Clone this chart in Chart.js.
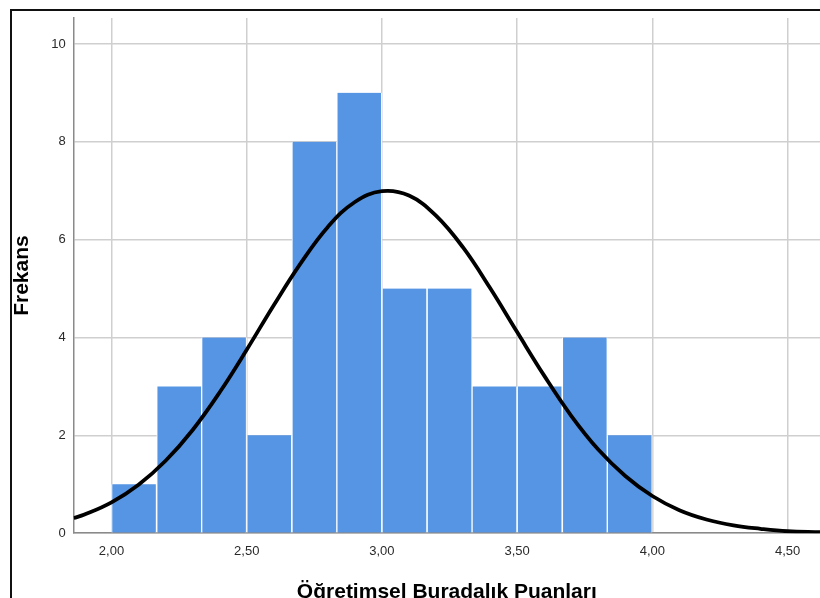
<!DOCTYPE html>
<html>
<head>
<meta charset="utf-8">
<script src="https://cdn.jsdelivr.net/npm/chart.js@4.4.1/dist/chart.umd.min.js"></script>
<style>
  body { margin: 0; background: #fff; overflow: hidden; }
  #wrap { position: relative; width: 820px; height: 605px; }
  #frame { position: absolute; left: 10px; top: 9px; width: 900px; height: 700px;
           border-left: 2px solid #111; border-top: 2px solid #111; pointer-events: none; }
</style>
</head>
<body>
<div id="wrap">
  <canvas id="histChart" width="820" height="605"></canvas>
  <div id="frame"></div>
</div>
<script>
// histogram bins (lower edge) and counts
const binLow = [2.000, 2.167, 2.333, 2.500, 2.667, 2.833, 3.000, 3.167, 3.333, 3.500, 3.667, 3.833];
const binWidth = 1 / 6;
const counts = [1, 3, 4, 2, 8, 9, 5, 5, 3, 3, 4, 2];

// normal curve
const curveX = [1.86, 1.9, 2.0, 2.1, 2.2, 2.3, 2.4, 2.5, 2.6, 2.7, 2.8, 2.9, 3.0, 3.1, 3.2, 3.3, 3.4, 3.5, 3.6, 3.7, 3.8, 3.9, 4.0, 4.1, 4.2, 4.3, 4.4, 4.5, 4.62];
const curveY = [0.31, 0.38, 0.63, 0.99, 1.48, 2.11, 2.88, 3.75, 4.66, 5.52, 6.26, 6.77, 6.99, 6.90, 6.49, 5.84, 5.01, 4.11, 3.22, 2.40, 1.71, 1.17, 0.76, 0.47, 0.28, 0.16, 0.09, 0.04, 0.02];

// axis ticks
const xTicks = [2.0, 2.5, 3.0, 3.5, 4.0, 4.5];
const yTicks = [0, 2, 4, 6, 8, 10];

const xTitle = "Öğretimsel Buradalık Puanları";
const yTitle = "Frekans";

const barData = counts.map((c, i) => ({ x: binLow[i] + binWidth / 2, y: c }));
const lineData = curveX.map((x, i) => ({ x: x, y: curveY[i] }));

const gridColor = '#cfcfcf';
const tickFont = { family: 'Liberation Sans, Arial, sans-serif', size: 13 };
const titleFont = { family: 'Liberation Sans, Arial, sans-serif', size: 21, weight: 'bold' };

const ctx = document.getElementById('histChart').getContext('2d');
const chart = new Chart(ctx, {
  type: 'bar',
  data: {
    datasets: [
      {
        type: 'line',
        data: lineData,
        borderColor: '#000',
        borderWidth: 3.8,
        pointRadius: 0,
        tension: 0.4,
        fill: false,
        order: 0
      },
      {
        type: 'bar',
        data: barData,
        backgroundColor: '#5595e4',
        borderColor: '#ffffff',
        borderWidth: { left: 1, right: 1, top: 0, bottom: 0 },
        borderSkipped: false,
        barPercentage: 1,
        categoryPercentage: 1,
        order: 1
      }
    ]
  },
  options: {
    responsive: false,
    animation: false,
    layout: { padding: { left: 10, top: 18, right: 0, bottom: 0 } },
    plugins: { legend: { display: false }, tooltip: { enabled: false } },
    scales: {
      x: {
        type: 'linear',
        offset: false,
        min: 1.86,
        max: 4.62,
        afterBuildTicks: (scale) => { scale.ticks = xTicks.map(v => ({ value: v })); },
        grid: { color: gridColor, lineWidth: 1.5, drawTicks: false, offset: false },
        border: { color: '#8a8a8a', width: 1.5 },
        ticks: {
          color: '#2a2a2a',
          font: tickFont,
          padding: 10,
          maxRotation: 0,
          callback: (v) => Number(v).toFixed(2).replace('.', ',')
        },
        title: { display: true, text: xTitle, color: '#000', font: titleFont, padding: { top: 11, bottom: 0 } }
      },
      y: {
        min: 0,
        max: 10.53,
        afterBuildTicks: (scale) => { scale.ticks = yTicks.map(v => ({ value: v })); },
        grid: { color: gridColor, lineWidth: 1.5, drawTicks: false },
        border: { color: '#8a8a8a', width: 1.5 },
        ticks: { color: '#2a2a2a', font: tickFont, padding: 8 },
        title: { display: true, text: yTitle, color: '#000', font: titleFont, padding: { top: 0, bottom: 8 } }
      }
    }
  }
});
</script>
</body>
</html>
